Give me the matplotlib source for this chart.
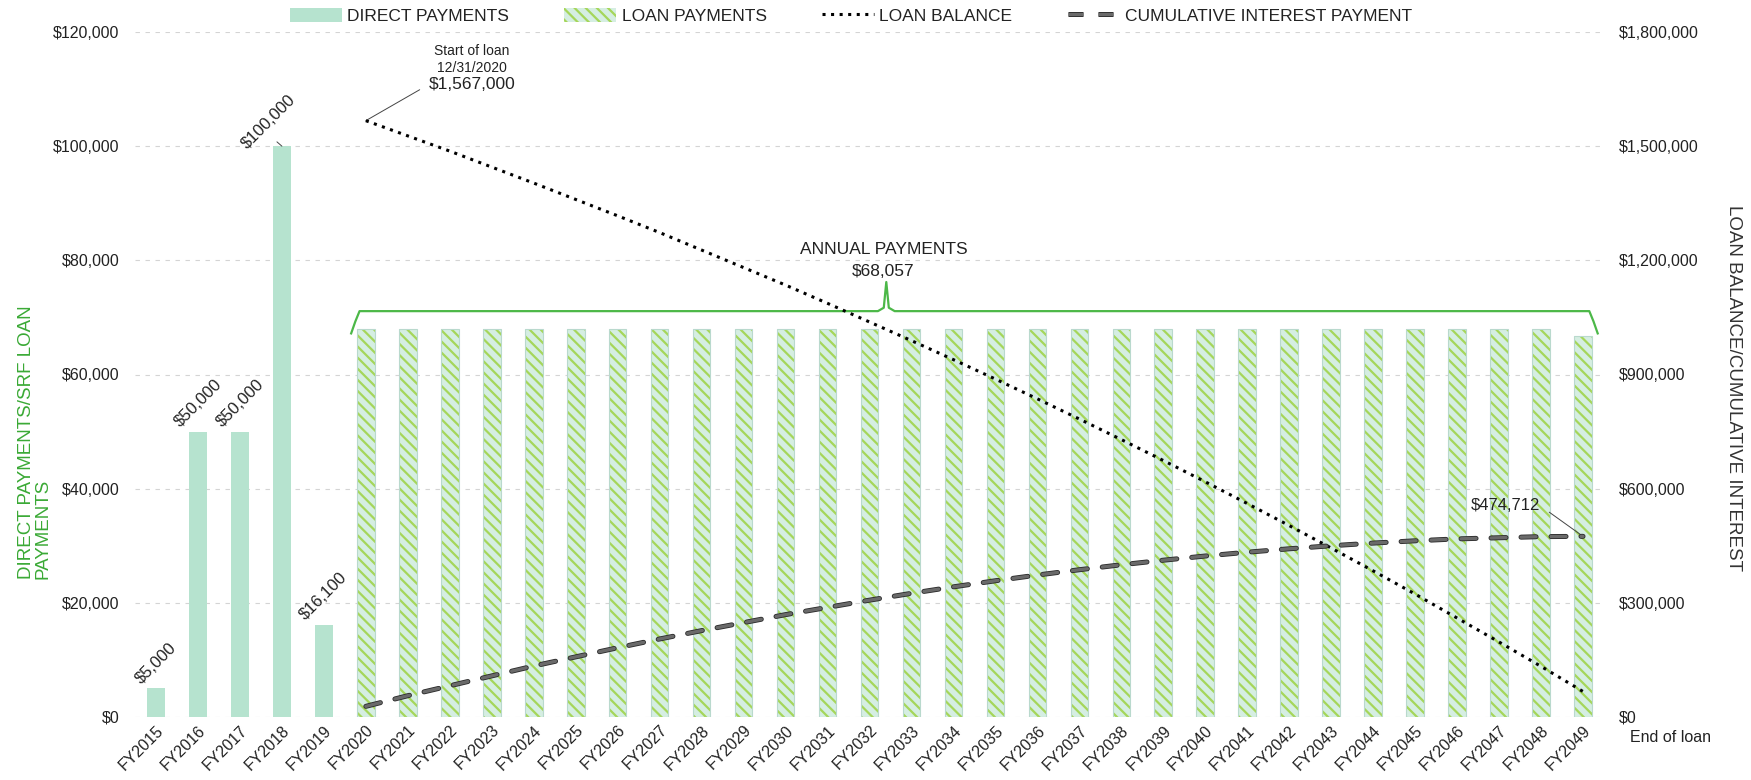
import matplotlib
matplotlib.use('Agg')
import matplotlib.pyplot as plt
import numpy as np
from matplotlib.patches import Patch
from matplotlib.lines import Line2D
from matplotlib.ticker import FuncFormatter, MultipleLocator
import matplotlib.patheffects as pe

plt.rcParams['font.family'] = ['Liberation Sans', 'DejaVu Sans']
plt.rcParams['hatch.linewidth'] = 1.6

# ---- data ----
fiscal_years = [f'FY{y}' for y in range(2015, 2050)]

direct_years = ['FY2015', 'FY2016', 'FY2017', 'FY2018', 'FY2019']
direct_payments = [5000, 50000, 50000, 100000, 16100]

loan_years = fiscal_years[5:]
loan_payments = [68057, 68057, 68057, 68057, 68057, 68057, 68057, 68057, 68057, 68057,
                 68057, 68057, 68057, 68057, 68057, 68057, 68057, 68057, 68057, 68057,
                 68057, 68057, 68057, 68057, 68057, 68057, 68057, 68057, 68057, 66800]

loan_balance = [1567000, 1527000, 1487000, 1445000, 1403000, 1360000, 1317000, 1273000,
                1227000, 1181000, 1135000, 1087000, 1038000, 989000, 939000, 888000,
                836000, 783000, 729000, 674000, 618000, 561000, 503000, 444000,
                384000, 323000, 260000, 197000, 133000, 67000]

cumulative_interest = [28000, 56000, 82000, 108000, 134000, 158000, 182000, 205000,
                       227000, 248000, 269000, 288000, 307000, 325000, 342000, 358000,
                       373000, 387000, 400000, 412000, 423000, 433000, 442000, 450000,
                       457000, 463000, 468000, 471000, 474000, 474712]

annual_payment = 68057
# --------------------------------------

W, H = 1751, 780
fig = plt.figure(figsize=(W / 100, H / 100), dpi=100)
ax = fig.add_axes([135 / W, 1 - 717 / H, (1604 - 135) / W, (717 - 32) / H])
ax2 = ax.twinx()

x = np.arange(len(fiscal_years))
pos = {fy: i for i, fy in enumerate(fiscal_years)}
xd = [pos[f] for f in direct_years]
xl = [pos[f] for f in loan_years]

mint = '#b6e3cf'
hatch_green = '#a5d65a'
loan_face = '#d5eee2'

ax.bar(xd, direct_payments, width=0.42, color=mint, linewidth=0, zorder=2)
ax.bar(xl, loan_payments, width=0.42, color=loan_face, edgecolor=hatch_green,
       hatch='\\\\\\', linewidth=0, zorder=2)
ax.bar(xl, loan_payments, width=0.42, fill=False, edgecolor='#b9d9cd',
       linewidth=0.8, zorder=3)

ax.set_xlim(-0.5, len(fiscal_years) - 0.5)
ax.set_ylim(0, 120000)
ax2.set_ylim(0, 1800000)
ax.yaxis.set_major_locator(MultipleLocator(20000))
ax2.yaxis.set_major_locator(MultipleLocator(300000))
money = FuncFormatter(lambda v, p: f'${v:,.0f}')
ax.yaxis.set_major_formatter(money)
ax2.yaxis.set_major_formatter(money)

ax.grid(axis='y', color='#d4d4d4', linestyle=(0, (4, 5)), linewidth=0.8, zorder=0)
ax.set_axisbelow(True)
for a in (ax, ax2):
    for s in a.spines.values():
        s.set_visible(False)
ax.tick_params(axis='y', length=0, pad=11, labelsize=11.5, labelcolor='#222222')
ax2.tick_params(axis='y', length=0, pad=11, labelsize=11.5, labelcolor='#222222')
ax.tick_params(axis='x', length=0, pad=4, labelsize=11.5, labelcolor='#222222')
ax.set_xticks(x)
ax.set_xticklabels(fiscal_years, rotation=45, ha='right', rotation_mode='anchor')

# lines on the right axis
ax2.plot(xl, loan_balance, color='black', linestyle=(0, (1, 1.8)), linewidth=2.2, zorder=5)
ax2.plot(xl, cumulative_interest, color='#6a6a6a', linewidth=2.4,
         dashes=(4.5, 4.5), dash_capstyle='round', zorder=5,
         path_effects=[pe.Stroke(linewidth=3.6, foreground='#2a2a2a'), pe.Normal()])

# data labels on the direct payments
for xi, v in zip(xd, direct_payments):
    if v == max(direct_payments):
        ax.annotate(f'${v:,.0f}', xy=(xi, v), xytext=(-13, 24), textcoords='offset pixels',
                    rotation=45, ha='center', va='center', fontsize=12, color='#222222',
                    arrowprops=dict(arrowstyle='-', color='#444444', lw=0.7,
                                    shrinkA=2, shrinkB=0, relpos=(0.6, 0.2)))
    else:
        ax.annotate(f'${v:,.0f}', xy=(xi, v), xytext=(0, 2), textcoords='offset pixels',
                    rotation=45, ha='center', va='bottom', fontsize=12, color='#222222')

# annual payments bracket
first, last = xl[0], xl[-1]
peak = pos['FY2032'] + 0.4
yb, yend, ytop = 71100, 67200, 76200
bx = [first - 0.35, first - 0.25, first - 0.15, peak - 0.2, peak - 0.06, peak, peak + 0.06,
      peak + 0.2, last + 0.15, last + 0.25, last + 0.35]
by = [yend, yb - 1800, yb, yb, yb + 600, ytop, yb + 600, yb, yb, yb - 1800, yend]
ax.plot(bx, by, color='#4cb848', linewidth=1.6, zorder=4, solid_joinstyle='round')
ax.annotate('ANNUAL PAYMENTS', xy=(peak, ytop), xytext=(-2, 33), textcoords='offset pixels',
            ha='center', va='center', fontsize=12.5, color='#222222')
ax.annotate(f'${annual_payment:,.0f}', xy=(peak, ytop), xytext=(-3, 11), textcoords='offset pixels',
            ha='center', va='center', fontsize=12.5, color='#222222')

# loan start / end annotations
ax2.annotate(f'${loan_balance[0]:,.0f}', xy=(xl[0], loan_balance[0]), xytext=(106, 36),
             textcoords='offset pixels', ha='center', va='center', fontsize=12.5, color='#222222',
             arrowprops=dict(arrowstyle='-', color='#444444', lw=0.7,
                             shrinkA=5, shrinkB=0, relpos=(0, 0.5)))
ax2.annotate('Start of loan\n12/31/2020', xy=(xl[0], loan_balance[0]), xytext=(106, 61),
             textcoords='offset pixels', ha='center', va='center', fontsize=10,
             color='#222222', linespacing=1.3)
ax2.annotate(f'${cumulative_interest[-1]:,.0f}', xy=(xl[-1], cumulative_interest[-1]),
             xytext=(-78, 31), textcoords='offset pixels', ha='center', va='center',
             fontsize=12, color='#222222',
             arrowprops=dict(arrowstyle='-', color='#444444', lw=0.7,
                             shrinkA=6, shrinkB=0, relpos=(1, 0.5)))
fig.text(1670 / W, 1 - 737 / H, 'End of loan', ha='center', va='center',
         fontsize=11.5, color='#222222')

# axis titles
fig.text(35 / W, 1 - 442 / H, 'DIRECT PAYMENTS/SRF LOAN\nPAYMENTS', rotation=90,
         ha='center', va='center', multialignment='left', fontsize=13.5,
         color='#3aa935', linespacing=1.0)
fig.text(1733 / W, 1 - 388 / H, 'LOAN BALANCE/CUMULATIVE INTEREST', rotation=270,
         ha='center', va='center', fontsize=13.5, color='#333333')

# legend
handles = [
    Patch(facecolor=mint, edgecolor='none'),
    Patch(facecolor=loan_face, edgecolor=hatch_green, hatch='\\\\\\', linewidth=0),
    Line2D([], [], color='black', linestyle=(0, (1, 1.8)), linewidth=2.2),
    Line2D([], [], color='#6a6a6a', linewidth=2.4, dashes=(4.5, 4.5),
           path_effects=[pe.Stroke(linewidth=3.6, foreground='#2a2a2a'), pe.Normal()]),
]
labels = ['DIRECT PAYMENTS', 'LOAN PAYMENTS', 'LOAN BALANCE', 'CUMULATIVE INTEREST PAYMENT']
fig.legend(handles, labels, loc='center', bbox_to_anchor=(851 / W, 1 - 16 / H), ncol=4,
           frameon=False, fontsize=12.5, handlelength=3.0, handleheight=0.9,
           handletextpad=0.3, columnspacing=3.2, labelcolor='#222222')

fig.savefig('out.png', dpi=100)
